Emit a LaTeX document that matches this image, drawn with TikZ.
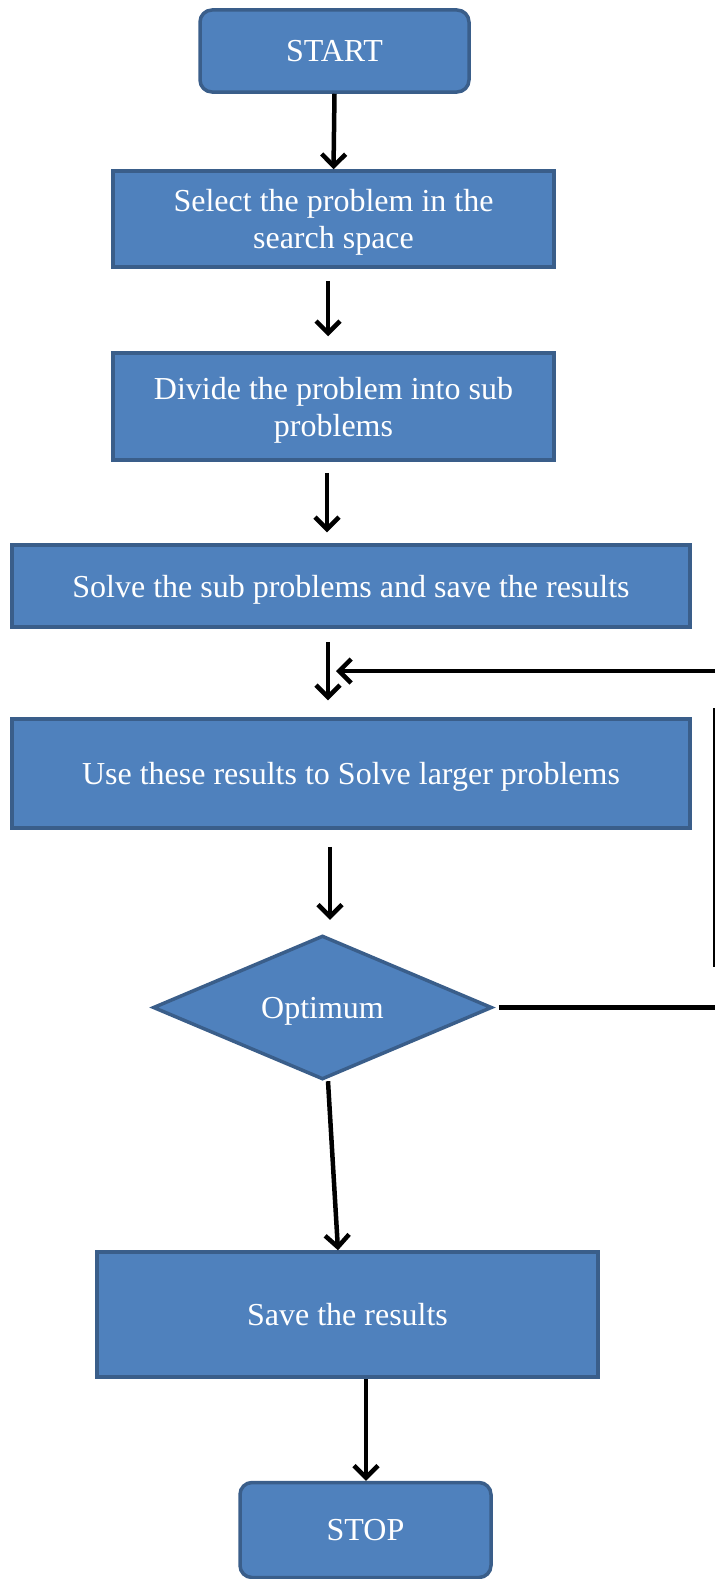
\documentclass[tikz,border=0pt]{standalone}
\usepackage{fontspec}
\setmainfont{Liberation Serif}
\usetikzlibrary{shapes.geometric,arrows.meta}

\definecolor{boxfill}{RGB}{79,129,189}
\definecolor{boxline}{RGB}{58,94,138}

\tikzset{every picture/.style={line width=0.75pt}}
\tikzset{
	stepbox/.style={draw=boxline, line width=3.5pt, fill=boxfill, text=white,
		inner sep=0pt, align=center, text depth=0pt, font=\fontsize{32}{37}\selectfont},
	termbox/.style={stepbox, rounded corners=12pt},
	testbox/.style={stepbox, diamond},
	flow/.style={draw=black, line width=4.5pt, -{Straight Barb[length=12pt,width=24pt]}},
	loopline/.style={draw=black, line width=4.5pt}
}

\begin{document}
\begin{tikzpicture}[x=1pt,y=1pt,yscale=-1,xscale=1]
	\path[use as bounding box] (0,0) rectangle (715,1579);

	%Shape: Rounded Rect [start]
	\node[termbox, minimum width=269pt, minimum height=82pt] (start) at (334.5,51) {START};
	%Shape: Rectangle [select]
	\node[stepbox, minimum width=441pt, minimum height=96pt] (sel) at (333.5,219) {Select the problem in the\\search space};
	%Shape: Rectangle [divide]
	\node[stepbox, minimum width=441pt, minimum height=107pt] (div) at (333.5,406.5) {Divide the problem into sub\\problems};
	%Shape: Rectangle [solve]
	\node[stepbox, minimum width=678pt, minimum height=82pt] (sol) at (351,586) {Solve the sub problems and save the results};
	%Shape: Rectangle [use]
	\node[stepbox, minimum width=678pt, minimum height=109pt] (use) at (351,773.5) {Use these results to Solve larger problems};
	%Shape: Diamond [optimum]
	\node[testbox, minimum width=339pt, minimum height=141pt] (opt) at (322.5,1007.5) {Optimum};
	%Shape: Rectangle [save]
	\node[stepbox, minimum width=501pt, minimum height=125pt] (save) at (347.5,1314.5) {Save the results};
	%Shape: Rounded Rect [stop]
	\node[termbox, minimum width=251pt, minimum height=95pt] (stop) at (365.5,1530) {STOP};

	%Straight Lines
	\draw[flow] (start.south) -- (sel.north);
	\draw[flow, shorten <=12pt, shorten >=15pt] ([xshift=-5.5pt]sel.south) -- ([xshift=-5.5pt]div.north);
	\draw[flow, shorten <=11pt, shorten >=11pt] ([xshift=-6.5pt]div.south) -- ([xshift=-24pt]sol.north);
	\draw[flow, shorten <=13pt, shorten >=17pt] ([xshift=-23pt]sol.south) -- ([xshift=-23pt]use.north);
	\draw[flow, shorten <=17pt, shorten >=14pt] ([xshift=-21pt]use.south) -- ([xshift=7.5pt]opt.north);
	\draw[flow] ([xshift=5.5pt]opt.south) -- ([xshift=-9.5pt]save.north);
	\draw[flow] ([xshift=18.5pt]save.south) -- ([xshift=0.5pt]stop.north);

	%Loop back
	\coordinate (loopA) at (715,1007.5);
	\coordinate (loopB) at (714,708);
	\coordinate (loopC) at (714,967);
	\coordinate (loopD) at (715,671);
	\coordinate (loopE) at (336,671);
	\draw[loopline, shorten <=5pt] (opt.east) -- (loopA);
	\draw[line width=1.5pt] (loopB) -- (loopC);
	\draw[flow] (loopD) -- (loopE);

\end{tikzpicture}
\end{document}
